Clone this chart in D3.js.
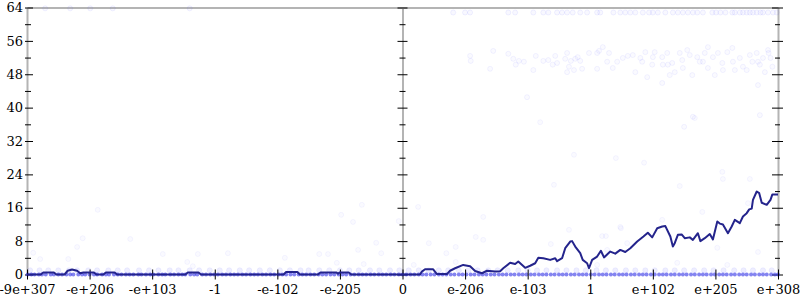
<!DOCTYPE html>
<meta charset="utf-8">
<script src="https://d3js.org/d3.v7.min.js"></script>
<style>
  body { margin: 0; background: #fff; }
  text { font-family: "DejaVu Serif", serif; font-size: 13px; }
</style>
<div id="chart"></div>
<script>
// tick positions (in "tick steps" from zero) and their labels
var xTicks = [-6, -5, -4, -3, -2, -1, 0, 1, 2, 3, 4, 5, 6];
var xLabels = ["-9e+307", "-e+206", "-e+103", "-1", "-e-102", "-e-205", "0",
               "e-206", "e-103", "1", "e+102", "e+205", "e+308"];
var yTicks = [0, 4, 8, 12, 16, 20, 24, 28, 32, 36, 40, 44, 48, 52, 56, 60, 64];

// running line
var lineX = [-6, -5.78, -5.74, -5.57, -5.53, -5.4, -5.35, -5.28, -5.2, -5.15, -5.1, -4.93, -4.89, -4.78, -4.74, -4.6, -4.56,
  -3.47, -3.43, -3.26, -3.22, -1.9, -1.86, -1.68, -1.64, -1.35, -1.31, -1.06, -1.03, -1.0, -0.86, -0.82,
  0.28, 0.31, 0.36, 0.49, 0.55, 0.71, 0.76, 0.84, 0.97, 1.08, 1.16, 1.27, 1.35, 1.48, 1.56, 1.61, 1.72, 1.8, 1.85, 1.96,
  2.04, 2.12, 2.17, 2.25, 2.36, 2.44, 2.47, 2.55, 2.6, 2.68, 2.71, 2.76, 2.84, 2.88, 2.95, 2.98, 3.03, 3.11, 3.17, 3.22,
  3.32, 3.4, 3.48, 3.56, 3.64, 3.75, 3.85, 3.92, 3.99, 4.07, 4.15, 4.2, 4.28, 4.32, 4.35, 4.4, 4.46, 4.51, 4.59, 4.64,
  4.72, 4.76, 4.83, 4.91, 4.96, 5.03, 5.07, 5.12, 5.2, 5.26, 5.31, 5.39, 5.44, 5.5, 5.54, 5.58, 5.6, 5.66, 5.7, 5.74,
  5.82, 5.88, 5.91, 6];
var lineY = [0, 0, 0.5, 0.5, 0, 0, 0.9, 1.2, 0.9, 0.3, 0.5, 0.5, 0, 0, 0.5, 0.5, 0,
  0, 0.5, 0.5, 0, 0, 0.6, 0.6, 0, 0, 0.5, 0.5, 0.2, 0.5, 0.5, 0,
  0, 0.7, 1.25, 1.25, 0.1, 0.1, 0.9, 1.5, 2.3, 2.0, 0.85, 0.3, 0.9, 0.7, 0.8, 1.5, 2.8, 2.5, 3.1, 1.6,
  2.1, 2.7, 4.0, 3.9, 3.5, 3.9, 3.2, 3.9, 6.3, 7.9, 8.0, 6.7, 5.1, 3.5, 2.7, 1.5, 3.5, 4.3, 5.7, 4.1,
  5.5, 5.0, 5.9, 5.4, 6.3, 7.9, 9.1, 10.0, 8.9, 11.1, 11.5, 11.6, 9.1, 6.7, 7.5, 9.5, 9.6, 8.7, 8.9, 8.3,
  9.9, 8.0, 8.7, 9.7, 8.4, 12.7, 12.2, 12.0, 9.9, 11.5, 13.1, 12.3, 13.9, 14.7, 15.6, 15.8, 17.9, 19.9, 19.5, 17.2,
  16.7, 17.9, 19.2, 19.2];

// points sitting on 0 (dense row)
var zeroRowX = [-5.99, -5.93, -5.88, -5.81, -5.76, -5.7, -5.62, -5.57, -5.5, -5.44, -5.37, -5.31, -5.26, -5.18, -5.12,
  -5.07, -5.0, -4.93, -4.88, -4.8, -4.74, -4.69, -4.61, -4.55, -4.49, -4.42, -4.36, -4.3, -4.22, -4.17, -4.1, -4.03,
  -3.98, -3.9, -3.84, -3.79, -3.71, -3.65, -3.58, -3.52, -3.47, -3.39, -3.33, -3.28, -3.2, -3.14, -3.07, -3.01, -2.95,
  -2.88, -2.82, -2.75, -2.69, -2.63, -2.56, -2.5, -2.43, -2.37, -2.31, -2.24, -2.18, -2.11, -2.05, -1.98, -1.92, -1.86,
  -1.79, -1.73, -1.66, -1.6, -1.54, -1.47, -1.41, -1.34, -1.28, -1.22, -1.15, -1.09, -1.02, -0.96, -0.9, -0.83, -0.77,
  -0.7, -0.64, -0.58, -0.51, -0.45, -0.38, -0.32, -0.26, -0.19, -0.13, -0.06, 0, 0.06, 0.13, 0.19, 0.26, 0.32, 0.38,
  0.45, 0.51, 0.58, 0.64, 0.7, 0.77, 0.83, 0.9, 0.96, 1.02, 1.09, 1.15, 1.22, 1.28, 1.34, 1.41, 1.47, 1.54, 1.6, 1.66,
  1.73, 1.79, 1.86, 1.92, 1.98, 2.05, 2.11, 2.18, 2.24, 2.3, 2.37, 2.43, 2.5, 2.56, 2.62, 2.69, 2.75, 2.82, 2.88, 2.94,
  3.01, 3.07, 3.14, 3.2, 3.26, 3.33, 3.39, 3.46, 3.52, 3.58, 3.65, 3.71, 3.78, 3.84, 3.9, 3.97, 4.03, 4.1, 4.16, 4.22,
  4.29, 4.35, 4.42, 4.48, 4.54, 4.61, 4.67, 4.74, 4.8, 4.86, 4.93, 4.99, 5.06, 5.12, 5.18, 5.25, 5.31, 5.38, 5.44, 5.5,
  5.57, 5.63, 5.7, 5.76, 5.82, 5.89, 5.95, 6.0];

// points sitting on 1 (lighter row)
var oneRowX = [-5.95, -5.8, -5.66, -5.5, -5.33, -5.2, -5.02, -4.88, -4.7, -4.55, -4.4, -4.21, -4.05, -3.9, -3.72,
  -3.58, -3.4, -3.25, -3.08, -2.92, -2.77, -2.6, -2.45, -2.28, -2.12, -1.96, -1.8, -1.63, -1.5, -1.33, -1.17, -1.0,
  -0.85, -0.7, -0.52, -0.37, -0.2, -0.05, 0.1, 0.26, 0.42, 0.58, 0.73, 0.9, 1.05, 1.2, 1.37, 1.52, 1.68, 1.85, 2.0,
  2.15, 2.3, 2.47, 2.62, 2.78, 2.93, 3.1, 3.25, 3.4, 3.57, 3.72, 3.88, 4.03, 4.2, 4.35, 4.5, 4.66, 4.82, 4.97, 5.13,
  5.3, 5.45, 5.6, 5.76, 5.9];

// points near the top (about 63)
var topRowX = [-5.71, -5.31, -4.99, -4.63, -3.4, 0.81, 1.0, 1.08, 1.69, 1.8, 2.09, 2.25, 2.33, 2.47, 2.55, 2.63, 2.72,
  2.84, 2.95, 3.11, 3.16, 3.37, 3.48, 3.56, 3.64, 3.72, 3.84, 3.94, 4.0, 4.08, 4.2, 4.32, 4.4, 4.48, 4.56, 4.64, 4.71,
  4.8, 4.95, 5.01, 5.08, 5.16, 5.27, 5.31, 5.39, 5.44, 5.5, 5.55, 5.6, 5.66, 5.72, 5.76, 5.84, 5.92, 5.98];
var topRowY = [63.8, 63.8, 63.8, 63.8, 63.8, 62.8, 62.8, 62.8, 62.8, 62.8, 62.8, 62.8, 62.8, 62.8, 62.8, 62.8, 62.8,
  62.8, 62.8, 62.8, 62.8, 62.8, 62.8, 62.8, 62.8, 62.8, 62.8, 62.8, 62.8, 62.8, 62.8, 62.8, 62.8, 62.8, 62.8, 62.8, 62.8,
  62.8, 62.8, 62.8, 62.8, 62.8, 62.8, 62.8, 62.8, 62.8, 62.8, 62.8, 62.8, 62.8, 62.8, 62.8, 62.8, 62.8, 62.8];

// band of points around 48-56
var bandX = [1.08, 1.09, 1.45, 1.4, 1.69, 1.77, 1.81, 1.86, 1.94, 1.99, 2.09, 2.13, 2.25, 2.33, 2.4, 2.44, 2.47, 2.6,
  2.63, 2.63, 2.66, 2.69, 2.74, 2.76, 2.8, 2.84, 2.87, 2.98, 3.11, 3.11, 3.14, 3.2, 3.3, 3.27, 3.36, 3.43, 3.52, 3.6,
  3.68, 3.72, 3.8, 3.83, 3.88, 3.91, 3.99, 4.0, 4.03, 4.15, 4.16, 4.15, 4.23, 4.24, 4.31, 4.27, 4.35, 4.43, 4.47, 4.48,
  4.55, 4.59, 4.63, 4.64, 4.5, 4.71, 4.75, 4.8, 4.83, 4.88, 4.88, 4.96, 4.99, 5.04, 5.11, 5.12, 5.19, 5.27, 5.28, 5.31,
  5.39, 5.44, 5.5, 5.55, 5.59, 5.66, 5.68, 5.71, 5.76, 5.79, 5.84, 5.85, 5.88, 5.91, 5.68, 5.71];
var bandY = [52.4, 51.2, 53.6, 49.3, 52.9, 51.7, 50.3, 51.2, 51.0, 42.5, 49.0, 52.4, 51.2, 51.4, 50.3, 52.4, 50.7, 51.7,
  53.1, 48.5, 49.8, 51.2, 49.0, 51.7, 52.1, 51.2, 49.3, 53.1, 53.1, 49.3, 53.6, 54.5, 53.1, 51.0, 49.5, 51.0, 51.9, 52.4,
  52.6, 48.5, 51.9, 51.0, 53.3, 47.3, 50.3, 52.1, 53.3, 52.1, 50.3, 45.9, 53.1, 50.3, 50.7, 47.8, 48.5, 53.1, 51.4, 49.5,
  53.8, 52.6, 47.8, 37.8, 35.4, 52.1, 51.0, 51.0, 53.1, 54.5, 49.5, 52.1, 47.8, 53.1, 50.7, 49.0, 53.3, 54.3, 51.0, 49.0,
  51.9, 49.8, 49.0, 52.6, 51.0, 53.1, 51.0, 50.3, 51.9, 48.5, 53.8, 53.1, 51.9, 49.8, 45.4, 38.2];

// scattered points elsewhere
var sparseX = [-5.9, -5.79, -5.2, -5.11, -4.87, -5.34, -4.35, -3.83, -3.44, -3.35, -3.27, -2.79, -1.88, -1.33, -1.19,
  -1.05, -0.71, -0.62, -0.42, -0.34, -0.65, -0.98, -0.79, 0.25, -0.06, 0.18, 0.42, 0.7, 0.85, 0.85, 1.17, 1.29, 1.29,
  2.42, 2.66, 2.37, 3.19, 3.25, 3.49, 3.59, 3.27, 3.11, 5.11, 5.12, 4.43, 5.55, 4.79, 4.15, 5.52, 5.03, 5.68, 4.39,
  5.19, 3.41, 3.86, 3.48, 2.2, 2.74, 4.67];
var sparseY = [5.2, 3.7, 6.6, 8.7, 15.5, 3.7, 8.5, 4.9, 3.0, 2.0, 4.9, 5.1, 4.0, 4.9, 4.9,
  2.8, 5.9, 2.5, 7.6, 5.1, 16.7, 14.3, 12.6, 16.2, 12.8, 2.3, 7.5, 5.1, 3.0, 6.6, 9.0, 13.8, 8.3,
  21.5, 10.7, 7.3, 9.2, 9.2, 11.1, 7.5, 5.9, 2.3, 24.6, 22.9, 21.2, 22.9, 15.0, 13.1, 17.1, 6.4, 5.4, 2.8,
  2.3, 27.9, 26.8, 11.4, 36.5, 28.7, 37.5];

var width = 800, height = 300;
var grey = "#b4b4b4";

var svg = d3.select("#chart").append("svg")
    .attr("width", width)
    .attr("height", height);

var x = d3.scaleLinear().domain([-6, 6]).range([27, 778]);
var y = d3.scaleLinear().domain([0, 64]).range([274.5, 7.5]);

// top frame line
svg.append("g")
    .attr("transform", "translate(0," + y(64) + ")")
    .call(d3.axisTop(x).tickValues([]).tickSizeOuter(0))
  .select(".domain")
    .attr("stroke", grey).attr("stroke-width", 2);

// vertical axes: left (labelled), middle and right
function yAxis(pos, labels, major, minor) {
  var g = svg.append("g")
      .attr("transform", "translate(" + pos + ",0)")
      .call(d3.axisLeft(y).tickValues(yTicks).tickSizeOuter(0)
        .tickFormat(function(d) { return labels && d % 8 === 0 ? d : ""; }));
  g.select(".domain").attr("stroke", grey).attr("stroke-width", 2);
  g.selectAll(".tick line")
      .attr("stroke", "#000")
      .attr("x1", function(d) { return d % 8 === 0 ? major[0] : minor[0]; })
      .attr("x2", function(d) { return d % 8 === 0 ? major[1] : minor[1]; });
  g.selectAll(".tick text")
      .attr("x", -4)
      .attr("fill", "#000")
      .style("font-family", "DejaVu Serif, serif")
      .style("font-size", "13px");
  return g;
}

// scatter
function dots(xs, ys, r, fill, stroke) {
  svg.append("g").selectAll("circle")
    .data(xs.map(function(d, i) { return [d, ys[i]]; }))
    .enter().append("circle")
      .attr("cx", function(d) { return x(d[0]); })
      .attr("cy", function(d) { return y(d[1]); })
      .attr("r", r)
      .attr("fill", fill)
      .attr("stroke", stroke)
      .attr("stroke-width", 0.8);
}

var axL = yAxis(x(-6), true, [-2, 6], [-2, 4]);
var axM = yAxis(x(0), false, [-5, 5], [-3, 3]);
var axR = yAxis(x(6), false, [-6, 5], [-3, 2]);

dots(bandX, bandY, 2.5, "rgba(110,110,255,0.03)", "rgba(90,90,255,0.09)");
dots(topRowX, topRowY, 2.5, "rgba(110,110,255,0.05)", "rgba(90,90,255,0.11)");
dots(sparseX, sparseY, 2.5, "rgba(110,110,255,0.03)", "rgba(90,90,255,0.07)");
dots(oneRowX, oneRowX.map(function() { return 1; }), 2.6, "rgba(120,120,255,0.13)", "rgba(100,100,255,0.1)");
dots(zeroRowX, zeroRowX.map(function() { return 0; }), 2, "rgba(50,50,230,0.6)", "none");

// bottom ticks and labels
var xg = svg.append("g")
    .attr("transform", "translate(0," + y(0) + ")")
    .call(d3.axisBottom(x).tickValues(xTicks).tickSize(5).tickSizeOuter(0)
      .tickFormat(function(d, i) { return xLabels[i]; }));
xg.select(".domain").remove();
xg.selectAll(".tick line").attr("stroke", "#000").attr("y1", -5).attr("y2", 5);
xg.selectAll(".tick text")
    .attr("y", 10)
    .attr("fill", "#000")
    .style("font-family", "DejaVu Serif, serif")
    .style("font-size", "13px");

// the line
var line = d3.line()
    .x(function(d) { return x(d[0]); })
    .y(function(d) { return y(d[1]); });

svg.append("path")
    .datum(lineX.map(function(d, i) { return [d, lineY[i]]; }))
    .attr("fill", "none")
    .attr("stroke", "#24248c")
    .attr("stroke-width", 2)
    .attr("stroke-linejoin", "round")
    .attr("d", line);
</script>
